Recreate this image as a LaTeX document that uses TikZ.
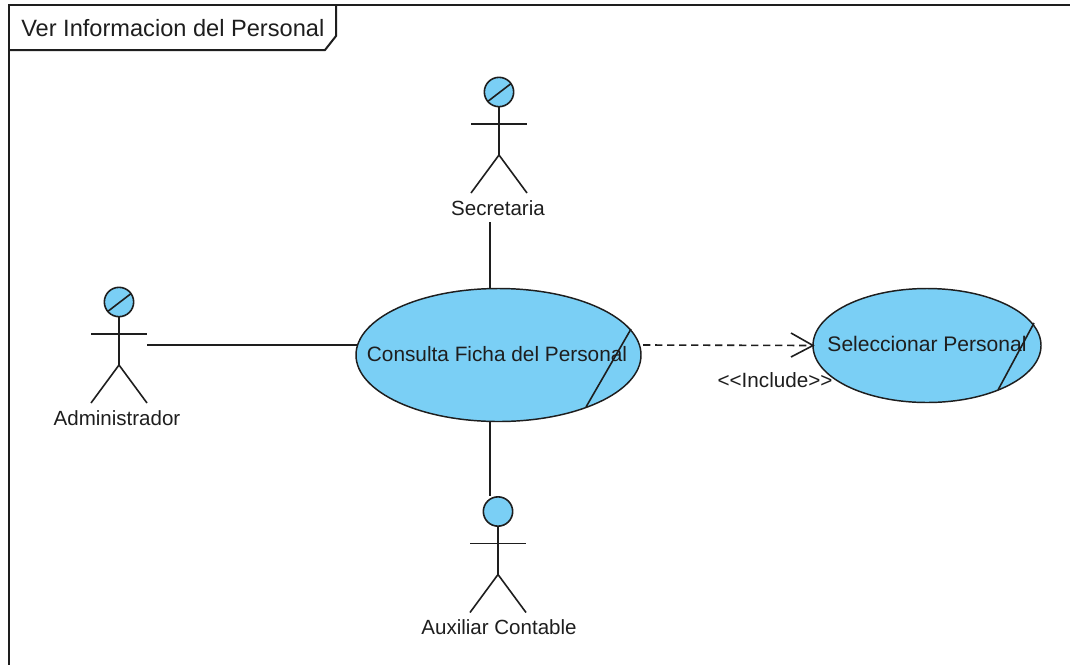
\documentclass[tikz,border=0pt]{standalone}
\usepackage{fontspec}
\setmainfont{Liberation Sans}
\usetikzlibrary{shapes.geometric}
\definecolor{ucblue}{RGB}{122,207,245}
\definecolor{ink}{RGB}{30,30,30}
\tikzset{
  x=0.75pt,y=-0.75pt,
  ln/.style={draw=ink,line width=1.2pt},
  frameln/.style={draw=ink,line width=1.5pt},
  uc/.style={ellipse,draw=ink,line width=1.1pt,fill=ucblue,inner sep=0pt,outer sep=0pt},
  head/.style={circle,draw=ink,line width=1.2pt,fill=ucblue,minimum size=22pt,inner sep=0pt,outer sep=0pt},
  lbl/.style={font=\fontsize{15.4}{18}\selectfont,text=ink,inner sep=0pt}
}
\newcommand{\actorfig}[6]{% x, y-head-centre, name, label, label-x, label-y
  \node[head] (#3) at (#1,#2) {};
  \draw[ln] (#3.south) -- (#1,#2+63) -- (#1-28,#2+101);
  \draw[ln] (#1,#2+63) -- (#1+28,#2+101);
  \draw[ln] (#1-28,#2+32) -- (#1+28,#2+32);
  \node[lbl] (#3lbl) at (#5,#6) {#4};
}
\begin{document}
\begin{tikzpicture}
\useasboundingbox (0,0) rectangle (1070,665);
\fill[white] (0,0) rectangle (1070,665);
% frame
\coordinate (ftl) at (9,5);
\coordinate (ftr) at (1070,5);
\coordinate (fbl) at (9,665);
\draw[frameln] (ftr) -- (ftl) -- (fbl);
\coordinate (tabr) at (336,5);
\coordinate (tabm) at (336,36);
\coordinate (tabb) at (325,50);
\coordinate (tabl) at (9,50);
\draw[frameln] (tabr) -- (tabm) -- (tabb) -- (tabl);
\node[lbl,font=\fontsize{17.7}{20}\selectfont,anchor=west] (title) at (21,28) {Ver Informacion del Personal};
% use cases
\node[uc,minimum width=213.75pt,minimum height=99.75pt] (consulta) at (498.5,355) {};
\draw[ln] (631,329) -- (586,407);
\node[lbl,font=\fontsize{15.6}{18}\selectfont] (consultalbl) at (497,354) {Consulta Ficha del Personal};
\node[uc,minimum width=171pt,minimum height=85.5pt] (selec) at (927,345.5) {};
\draw[ln] (1034,323) -- (998,390);
\node[lbl,font=\fontsize{15.8}{18}\selectfont] (seleclbl) at (927,344) {Seleccionar Personal};
% actors
\actorfig{499}{92}{sec}{Secretaria}{498}{208}
\draw[ln] (sec.220) -- (sec.35);
\actorfig{119}{302}{adm}{Administrador}{117}{418}
\draw[ln] (adm.220) -- (adm.35);
\actorfig{498}{511.5}{aux}{Auxiliar Contable}{499}{627}
% connectors
\coordinate (secfoot) at (490,222);
\coordinate (sectop) at (490,288);
\draw[ln] (secfoot) -- (sectop);
\coordinate (admend) at (147,345);
\draw[ln,shorten >=-1.5pt] (admend) -- (consulta.west |- admend);
\coordinate (auxtop) at (490,496);
\coordinate (auxbot) at (490,422);
\draw[ln] (auxbot) -- (auxtop);
\coordinate (dashstart) at (643,345);
\draw[ln,dash pattern=on 5.5pt off 3.5pt] (dashstart) -- (selec.west);
\coordinate (arrowa) at (791,333);
\coordinate (arrowb) at (791,357);
\draw[ln,line join=miter] (arrowa) -- (selec.west) -- (arrowb);
\node[lbl,font=\fontsize{15.5}{18}\selectfont] (inc) at (775,380) {{<}{<}Include{>}{>}};
\end{tikzpicture}
\end{document}
